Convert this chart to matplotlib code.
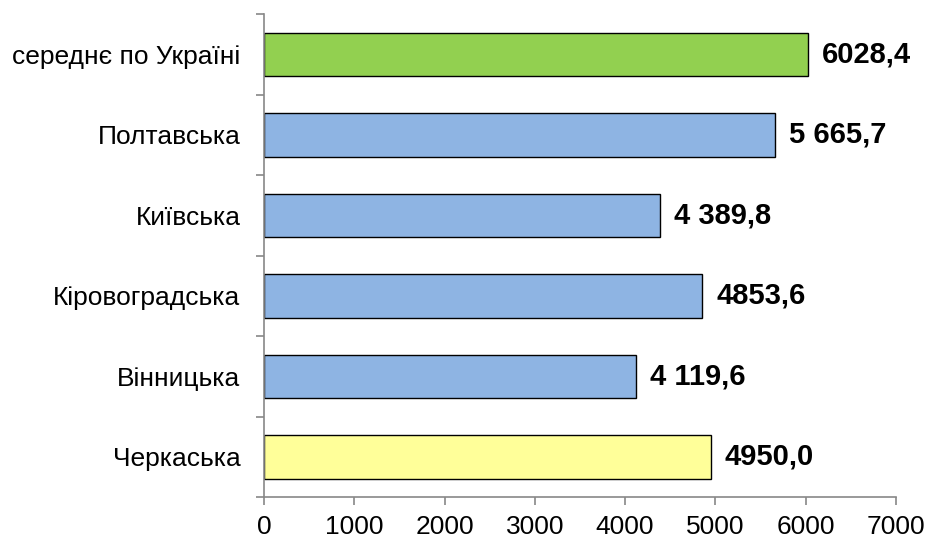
import matplotlib.pyplot as plt
import numpy as np

plt.rcParams['font.family'] = ['Liberation Sans', 'DejaVu Sans']

regions = ["Черкаська", "Вінницька", "Кіровоградська", "Київська", "Полтавська", "середнє по Україні"]
values = [4950.0, 4119.6, 4853.6, 4389.8, 5665.7, 6028.4]
value_labels = ["4950,0", "4 119,6", "4853,6", "4 389,8", "5 665,7", "6028,4"]
colors = ["#FFFF99", "#8EB4E3", "#8EB4E3", "#8EB4E3", "#8EB4E3", "#92D050"]

fig = plt.figure(figsize=(9.25, 5.4), dpi=100)
ax = fig.add_axes([0.2854, 0.0796, 0.6832, 0.8944])

y = np.arange(len(regions))
ax.barh(y, values, height=0.54, color=colors, edgecolor="black", linewidth=1)

for yi, v, lab in zip(y, values, value_labels):
    ax.annotate(lab, (v, yi), xytext=(10, 0), textcoords="offset points",
                va="center", ha="left", fontsize=21, fontweight="bold")

ax.set_xlim(0, 7000)
ax.set_ylim(-0.5, len(regions) - 0.5)
ax.set_xticks(np.arange(0, 7001, 1000))
ax.set_xticklabels([str(t) for t in range(0, 7001, 1000)], fontsize=19)

ax.set_yticks(y)
ax.set_yticklabels(regions, fontsize=19)
ax.set_yticks(np.arange(-0.5, len(regions), 1), minor=True)
ax.tick_params(axis="y", which="major", length=0, pad=17)
ax.tick_params(axis="y", which="minor", length=6, color="#888888", width=1.2)
ax.tick_params(axis="x", length=6, color="#888888", width=1.2, pad=7)

for side in ["top", "right"]:
    ax.spines[side].set_visible(False)
for side in ["left", "bottom"]:
    ax.spines[side].set_color("#888888")
    ax.spines[side].set_linewidth(1.2)

fig.savefig("out.png", dpi=100)
